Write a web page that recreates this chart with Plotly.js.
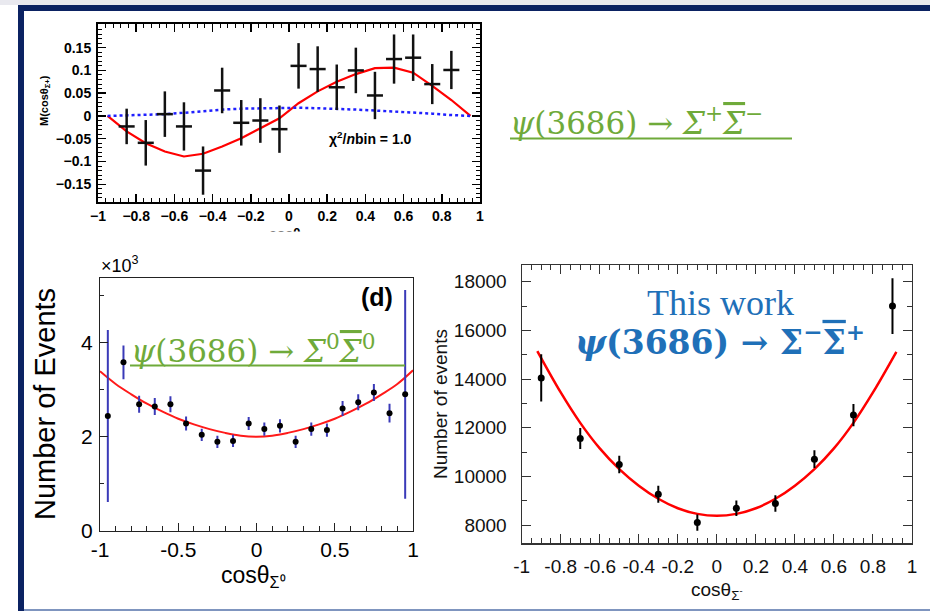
<!DOCTYPE html>
<html>
<head>
<meta charset="utf-8">
<script src="https://cdn.plot.ly/plotly-3.0.1.min.js"></script>
<style>html,body{margin:0;padding:0;background:#fff}#chart{width:930px;height:613px}</style>
</head>
<body>
<div id="chart"></div>
<script>
// ---------- DATA ----------
// Top plot: M(cosθ) for ψ(3686) → Σ+ Σbar-
const topX = [-0.85,-0.75,-0.65,-0.55,-0.45,-0.35,-0.25,-0.15,-0.05,0.05,0.15,0.25,0.35,0.45,0.55,0.65,0.75,0.85];
const topM = [-0.023,-0.059,0.004,-0.023,-0.120,0.056,-0.015,-0.010,-0.029,0.110,0.103,0.063,0.100,0.045,0.125,0.128,0.070,0.101];
const topErr = [0.039,0.050,0.050,0.053,0.053,0.050,0.050,0.049,0.052,0.050,0.050,0.050,0.050,0.052,0.054,0.051,0.044,0.042];
const topCurveX = [-0.95,-0.85,-0.75,-0.65,-0.55,-0.45,-0.35,-0.25,-0.15,-0.05,0.05,0.15,0.25,0.35,0.45,0.55,0.65,0.75,0.85,0.95];
const topFit = [0,-0.034,-0.060,-0.078,-0.089,-0.083,-0.067,-0.049,-0.027,-0.005,0.028,0.054,0.075,0.092,0.105,0.106,0.095,0.066,0.035,0];
const topNull = [0,0.001,0.002,0.004,0.007,0.011,0.014,0.016,0.017,0.018,0.018,0.017,0.016,0.014,0.012,0.010,0.007,0.005,0.002,0];
const topYTicks = [-0.15,-0.1,-0.05,0,0.05,0.1,0.15];

// Bottom-left: ψ(3686) → Σ0 Σbar0 (×10^3 events)
const s0X = [-0.95,-0.85,-0.75,-0.65,-0.55,-0.45,-0.35,-0.25,-0.15,-0.05,0.05,0.15,0.25,0.35,0.45,0.55,0.65,0.75,0.85,0.95];
const s0Y = [2.44,3.58,2.69,2.64,2.69,2.28,2.04,1.89,1.91,2.28,2.16,2.23,1.89,2.16,2.14,2.60,2.73,2.94,2.50,2.90];
const s0Err = [1.83,0.36,0.18,0.18,0.17,0.15,0.13,0.13,0.13,0.14,0.14,0.14,0.13,0.14,0.14,0.16,0.17,0.18,0.20,2.22];
const s0FitX = [-1,-0.9,-0.8,-0.7,-0.6,-0.5,-0.4,-0.3,-0.2,-0.1,0,0.1,0.2,0.3,0.4,0.5,0.6,0.7,0.8,0.9,1];
const s0FitY = [3.39,3.12,2.90,2.70,2.53,2.38,2.26,2.16,2.08,2.02,2.00,2.02,2.08,2.16,2.26,2.38,2.53,2.70,2.90,3.12,3.41];
const s0TickVals = [-1,-0.5,0,0.5,1];
const s0TickText = ['-1','-0.5','0','0.5','1'];
const s0YTicks = [0,2,4];

// Bottom-right: ψ(3686) → Σ- Σbar+ (this work)
const smX = [-0.9,-0.7,-0.5,-0.3,-0.1,0.1,0.3,0.5,0.7,0.9];
const smY = [14050,11560,10490,9270,8100,8690,8890,10710,12520,17000];
const smErr = [970,430,360,350,330,320,340,360,460,1150];
const smFitX = [-0.92,-0.8,-0.7,-0.6,-0.5,-0.4,-0.3,-0.2,-0.1,0,0.1,0.2,0.3,0.4,0.5,0.6,0.7,0.8,0.92];
const smFitY = [15150,13450,12200,11150,10300,9620,9080,8690,8460,8380,8460,8690,9080,9620,10300,11150,12200,13450,15120];
const smXTickVals = [-1,-0.8,-0.6,-0.4,-0.2,0,0.2,0.4,0.6,0.8,1];
const smXTickText = ['-1','-0.8','-0.6','-0.4','-0.2','0','0.2','0.4','0.6','0.8','1'];
const smYTicks = [8000,10000,12000,14000,16000,18000];

// ---------- LAYOUT HELPERS ----------
const W = 930, H = 613;
const px = v => v / W;
const py = v => 1 - v / H;

const sans = 'Liberation Sans, Arial, Helvetica, sans-serif';
const serifMath = 'DejaVu Serif, serif';
const serifText = 'Liberation Serif, Times New Roman, serif';
const green = '#6FAA3A';
const blueTxt = '#1F70B8';
const navy = '#0B2262';
const barSigma = (italic) => '<span style="text-decoration:overline">' + (italic ? '<i>Σ</i>' : 'Σ') + '</span>';

const traces = [
  // top plot
  {x: topCurveX, y: topFit, xaxis:'x', yaxis:'y', mode:'lines', line:{color:'#ff0000', width:2.2}, hoverinfo:'skip'},
  {x: topCurveX, y: topNull, xaxis:'x', yaxis:'y', mode:'lines', line:{color:'#1f1fff', width:2.5, dash:'dot'}, hoverinfo:'skip'},
  {x: topX, y: topM, xaxis:'x', yaxis:'y', mode:'markers', marker:{size:1, color:'#000'},
   error_y:{type:'data', array: topErr, visible:true, thickness:2.5, width:0, color:'#111'},
   error_x:{type:'constant', value:0.042, visible:true, thickness:2.5, width:0, color:'#111'}},
  // bottom-left
  {x: s0FitX, y: s0FitY, xaxis:'x2', yaxis:'y2', mode:'lines', line:{color:'#ff1a1a', width:2, shape:'spline'}, hoverinfo:'skip'},
  {x: s0X, y: s0Y, xaxis:'x2', yaxis:'y2', mode:'markers', marker:{size:6, color:'#000'},
   error_y:{type:'data', array: s0Err, visible:true, thickness:2, width:0, color:'#3a3ab8'}},
  // bottom-right
  {x: smFitX, y: smFitY, xaxis:'x3', yaxis:'y3', mode:'lines', line:{color:'#ff0000', width:2.5, shape:'spline'}, hoverinfo:'skip'},
  {x: smX, y: smY, xaxis:'x3', yaxis:'y3', mode:'markers', marker:{size:7, color:'#000'},
   error_y:{type:'data', array: smErr, visible:true, thickness:2, width:0, color:'#000'}}
];

const layout = {
  width: W, height: H,
  margin: {l:0, r:0, t:0, b:0},
  paper_bgcolor: '#fff', plot_bgcolor: '#fff',
  showlegend: false,
  xaxis: {
    domain:[px(98), px(480)], range:[-1,1], anchor:'y',
    tickmode:'linear', tick0:-1, dtick:0.2, tickangle:0,
    ticks:'inside', ticklen:8, tickwidth:1.5, tickcolor:'#000',
    minor:{tickmode:'linear', tick0:-1, dtick:0.04, ticks:'inside', ticklen:4, tickwidth:1, tickcolor:'#000'},
    mirror:'allticks', showline:true, linewidth:2, linecolor:'#000',
    showgrid:false, zeroline:false,
    tickfont:{family:sans, size:14, weight:'bold', color:'#000'}
  },
  yaxis: {
    domain:[py(202), py(24)], range:[-0.189, 0.202], anchor:'x',
    tickmode:'array', tickvals:topYTicks,
    ticks:'inside', ticklen:8, tickwidth:1.5, tickcolor:'#000',
    minor:{tickmode:'linear', tick0:0, dtick:0.01, ticks:'inside', ticklen:4, tickwidth:1, tickcolor:'#000'},
    mirror:'allticks', showline:true, linewidth:2, linecolor:'#000',
    showgrid:false, zeroline:false, ticklabelstandoff:2,
    tickfont:{family:sans, size:14, weight:'bold', color:'#000'}
  },
  xaxis2: {
    domain:[px(100), px(413)], range:[-1,1], anchor:'y2',
    tickmode:'array', tickvals:s0TickVals, ticktext:s0TickText, tickangle:0,
    ticks:'inside', ticklen:8, tickwidth:1, tickcolor:'#222',
    minor:{tickmode:'linear', tick0:-1, dtick:0.1, ticks:'inside', ticklen:5, tickwidth:1, tickcolor:'#222'},
    mirror:true, showline:true, linewidth:1.2, linecolor:'#222',
    showgrid:false, zeroline:false,
    tickfont:{family:sans, size:21, color:'#000'}
  },
  yaxis2: {
    domain:[py(530.7), py(277.7)], range:[0, 5.38], anchor:'x2',
    tickmode:'array', tickvals:s0YTicks,
    ticks:'inside', ticklen:8, tickwidth:1, tickcolor:'#222',
    minor:{tickmode:'linear', tick0:0, dtick:1, ticks:'inside', ticklen:4, tickwidth:1, tickcolor:'#222'},
    mirror:true, showline:true, linewidth:1.2, linecolor:'#222',
    showgrid:false, zeroline:false, ticklabelstandoff:2,
    tickfont:{family:sans, size:21, color:'#000'}
  },
  xaxis3: {
    domain:[px(521.7), px(912)], range:[-1,1], anchor:'y3',
    tickmode:'array', tickvals:smXTickVals, ticktext:smXTickText, tickangle:0,
    ticks:'inside', ticklen:9, tickwidth:1, tickcolor:'#333',
    minor:{tickmode:'linear', tick0:-1, dtick:0.05, ticks:'inside', ticklen:5, tickwidth:1, tickcolor:'#333'},
    mirror:'allticks', showline:true, linewidth:1.2, linecolor:'#333',
    showgrid:false, zeroline:false, ticklabelstandoff:6,
    tickfont:{family:sans, size:19, color:'#111'}
  },
  yaxis3: {
    domain:[py(543.3), py(265)], range:[7250, 18690], anchor:'x3',
    tickmode:'array', tickvals:smYTicks, tickformat:'d',
    ticks:'inside', ticklen:9, tickwidth:1, tickcolor:'#333',
    minor:{tickmode:'linear', tick0:0, dtick:1000, ticks:'inside', ticklen:5, tickwidth:1, tickcolor:'#333'},
    mirror:'allticks', showline:true, linewidth:1.2, linecolor:'#333',
    showgrid:false, zeroline:false, ticklabelstandoff:10,
    tickfont:{family:sans, size:19, color:'#111'}
  },
  shapes: [
    {type:'rect', xref:'paper', yref:'paper', x0:0, x1:1, y0:py(5), y1:1, fillcolor:'#e9e9ef', line:{width:0}, layer:'below'},
    {type:'rect', xref:'paper', yref:'paper', x0:px(18), x1:1, y0:py(11), y1:py(5), fillcolor:navy, line:{width:0}},
    {type:'rect', xref:'paper', yref:'paper', x0:px(18), x1:px(24), y0:py(611), y1:py(5), fillcolor:navy, line:{width:0}},
    {type:'rect', xref:'paper', yref:'paper', x0:px(24), x1:1, y0:py(611), y1:py(609), fillcolor:'#7f95bf', line:{width:0}},
    // underlines of green formulas
    {type:'line', xref:'paper', yref:'paper', x0:px(510), x1:px(792), y0:py(138.5), y1:py(138.5), line:{color:green, width:2}},
    {type:'line', xref:'paper', yref:'paper', x0:px(130), x1:px(405), y0:py(365.5), y1:py(365.5), line:{color:green, width:2}}
  ],
  annotations: [
    // top plot
    {xref:'paper', yref:'paper', x:px(45), y:py(101), text:'M(cosθ<sub>Σ+</sub>)', textangle:-90, showarrow:false,
     xanchor:'center', yanchor:'middle', font:{family:sans, size:11, weight:'bold', color:'#000'}},
    {xref:'paper', yref:'paper', x:px(327), y:py(138), text:'χ<sup>2</sup>/<i>n</i>bin = 1.0', showarrow:false,
     xanchor:'left', yanchor:'middle', font:{family:sans, size:14, weight:'bold', color:'#000'}},
    {xref:'paper', yref:'paper', x:px(267), y:py(224), text:'cosθ<sub>Σ+</sub>', showarrow:false,
     xanchor:'left', yanchor:'top', font:{family:sans, size:14, weight:'bold', color:'#000'}},
    {xref:'paper', yref:'paper', x:px(255), y:py(231), text:' ', showarrow:false, width:80, height:22, bgcolor:'#fff',
     xanchor:'left', yanchor:'top', borderpad:0, font:{size:10}},
    // top-right green formula
    {xref:'paper', yref:'paper', x:px(508), y:py(121), text:'<i>ψ</i>(3686) → <i>Σ</i><sup>+</sup>' + barSigma(true) + '<sup>−</sup>', showarrow:false,
     xanchor:'left', yanchor:'middle', font:{family:serifMath, size:31, color:green}},
    // bottom-left
    {xref:'paper', yref:'paper', x:px(99), y:py(264), text:'×10<sup>3</sup>', showarrow:false,
     xanchor:'left', yanchor:'middle', font:{family:sans, size:18, color:'#000'}},
    {xref:'paper', yref:'paper', x:px(377), y:py(297), text:'(d)', showarrow:false,
     xanchor:'center', yanchor:'middle', font:{family:sans, size:25, weight:'bold', color:'#000'}},
    {xref:'paper', yref:'paper', x:px(45), y:py(404), text:'Number of Events', textangle:-90, showarrow:false,
     xanchor:'center', yanchor:'middle', font:{family:sans, size:29, color:'#000'}},
    {xref:'paper', yref:'paper', x:px(219), y:py(576), text:'cosθ<sub>Σ⁰</sub>', showarrow:false,
     xanchor:'left', yanchor:'middle', font:{family:sans, size:23, color:'#000'}},
    {xref:'paper', yref:'paper', x:px(129), y:py(349), text:'<i>ψ</i>(3686) → <i>Σ</i><sup>0</sup>' + barSigma(true) + '<sup>0</sup>', showarrow:false,
     xanchor:'left', yanchor:'middle', font:{family:serifMath, size:31, color:green}},
    // bottom-right
    {xref:'paper', yref:'paper', x:px(440), y:py(404), text:'Number of events', textangle:-90, showarrow:false,
     xanchor:'center', yanchor:'middle', font:{family:sans, size:19, color:'#111'}},
    {xref:'paper', yref:'paper', x:px(689), y:py(591), text:'cosθ<sub>Σ<sup>-</sup></sub>', showarrow:false,
     xanchor:'left', yanchor:'middle', font:{family:sans, size:19, color:'#111'}},
    {xref:'paper', yref:'paper', x:px(720), y:py(303), text:'This work', showarrow:false,
     xanchor:'center', yanchor:'middle', font:{family:serifText, size:36, color:blueTxt}},
    {xref:'paper', yref:'paper', x:px(720), y:py(340), text:'<b><i>ψ</i>(3686) → Σ<sup>−</sup>' + barSigma(false) + '<sup>+</sup></b>', showarrow:false,
     xanchor:'center', yanchor:'middle', font:{family:serifMath, size:33, color:blueTxt}}
  ]
};

Plotly.newPlot('chart', traces, layout, {staticPlot:true, displayModeBar:false});
</script>
</body>
</html>
